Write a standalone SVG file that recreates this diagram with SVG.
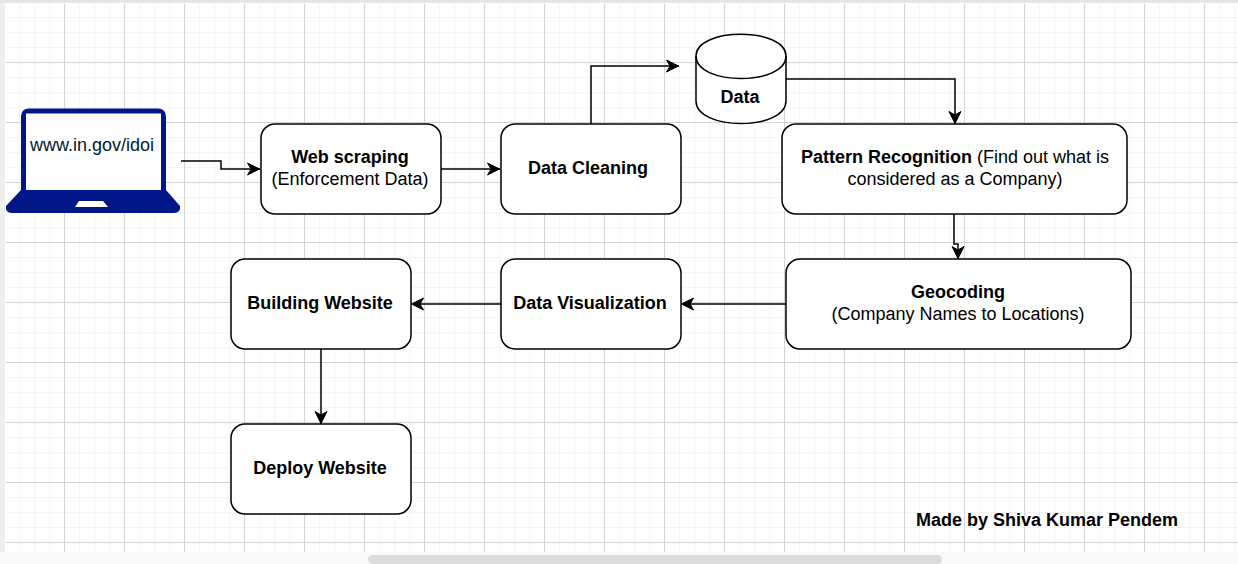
<svg xmlns="http://www.w3.org/2000/svg" width="1238" height="564" viewBox="0 0 1238 564">
<defs>
<pattern id="minor" x="4" y="2" width="15" height="15" patternUnits="userSpaceOnUse"><path d="M0 .5H15M.5 0V15" fill="none" stroke="#f5f5f5" stroke-width="1.3"/></pattern>
<pattern id="major" x="4" y="2" width="60" height="60" patternUnits="userSpaceOnUse"><path d="M0 .5H60M.5 0V60" fill="none" stroke="#d4d4d4" stroke-width="1"/></pattern>
<marker id="arrow" markerUnits="userSpaceOnUse" markerWidth="15" markerHeight="15" refX="13.5" refY="7" orient="auto"><path d="M1 1L13 7L1 13L4.5 7Z" fill="#000" stroke="#000"/></marker>
</defs>
<style>
.box{fill:#fff;stroke:#000;stroke-width:1.5}
.conn{fill:none;stroke:#000;stroke-width:1.5;marker-end:url(#arrow)}
text{font-family:"Liberation Sans",Arial,sans-serif;font-size:18px;text-anchor:middle;fill:#000}
.b{font-weight:bold}
</style>
<rect width="1238" height="564" fill="#fff"/>
<rect x="6" y="4" width="1232" height="548" fill="url(#minor)"/>
<rect x="6" y="4" width="1232" height="548" fill="url(#major)"/>
<rect x="0" y="0" width="5" height="552" fill="#efefef"/>
<rect x="0" y="0" width="1238" height="3" fill="#e6e6e6"/>
<rect x="0" y="552" width="1238" height="12" fill="#f9f9f9"/>
<rect x="368" y="555" width="574" height="9" rx="4.5" fill="#dcdcdc"/>
<g id="connectors">
<path class="conn" d="M181 161H221V169H260"/>
<path class="conn" d="M441 169H500"/>
<path class="conn" d="M591 124V66H679"/>
<path class="conn" d="M786 79H955V124"/>
<path class="conn" d="M954 214V244H958V259"/>
<path class="conn" d="M786 304H681"/>
<path class="conn" d="M501 304H411"/>
<path class="conn" d="M321 349V424"/>
</g>
<g id="laptop">
<path d="M21 117Q21 108.500 29 108.500H158Q166 108.500 166 117V190L180 206Q181 213 174 213H12Q5 213 6 206L21 190Z" fill="#001689"/>
<rect x="26" y="113.500" width="135" height="76.500" fill="#fff"/>
<path d="M79 201H103L108 207H75Z" fill="#fff"/>
<text x="92" y="151" style="fill:#001933">www.in.gov/idoi</text>
</g>
<g id="data">
<path class="box" d="M696 56C696 27 786 27 786 56V101C786 131 696 131 696 101Z"/>
<path class="box" style="fill:none" d="M696 56C696 86 786 86 786 56"/>
<text class="b" x="740" y="103">Data</text>
</g>
<g id="web-scraping"><rect class="box" x="261" y="124" width="180" height="90" rx="14"/><text class="b" x="350" y="163">Web scraping</text><text x="350" y="185">(Enforcement Data)</text></g>
<g id="data-cleaning"><rect class="box" x="501" y="124" width="180" height="90" rx="14"/><text class="b" x="588" y="174">Data Cleaning</text></g>
<g id="pattern-recognition"><rect class="box" x="782" y="124" width="345" height="90" rx="14"/><text x="955" y="163"><tspan class="b">Pattern Recognition</tspan> (Find out what is</text><text x="955" y="185">considered as a Company)</text></g>
<g id="geocoding"><rect class="box" x="786" y="259" width="345" height="90" rx="14"/><text class="b" x="958" y="298">Geocoding</text><text x="958" y="320">(Company Names to Locations)</text></g>
<g id="data-visualization"><rect class="box" x="501" y="259" width="180" height="90" rx="14"/><text class="b" x="590" y="309">Data Visualization</text></g>
<g id="building-website"><rect class="box" x="231" y="259" width="180" height="90" rx="14"/><text class="b" x="320" y="309">Building Website</text></g>
<g id="deploy-website"><rect class="box" x="231" y="424" width="180" height="90" rx="14"/><text class="b" x="320" y="474">Deploy Website</text></g>
<g id="credit"><text class="b" x="1047" y="526">Made by Shiva Kumar Pendem</text></g>
</svg>
